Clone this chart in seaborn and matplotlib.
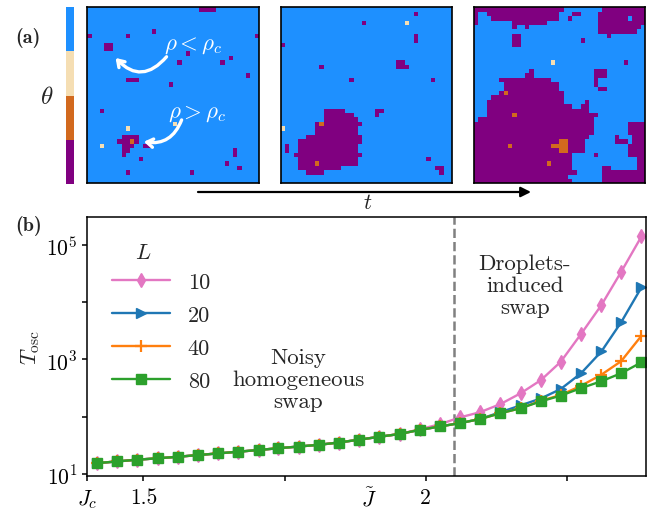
import numpy as np
import matplotlib
matplotlib.use("Agg")
import matplotlib.pyplot as plt
from matplotlib.colors import ListedColormap
from matplotlib.ticker import NullLocator
import seaborn as sns

# ---------------------------------------------------------------- data
# lattice states (theta): 0 purple, 1 chocolate, 2 wheat, 3 blue
state_colors = ["#800080", "#D2691E", "#F5DEB3", "#1E90FF"]
L_SNAP = 40

# runs of non-background cells: (row, first column, last column)
snap1_purple = [(0, 26, 29), (5, 15, 15), (6, 0, 0), (6, 9, 9), (6, 39, 39),
                (8, 4, 5), (9, 4, 5), (10, 23, 23), (11, 33, 33), (12, 21, 21),
                (12, 31, 31), (15, 37, 37), (16, 9, 11), (17, 19, 19), (23, 3, 3),
                (29, 8, 11), (30, 7, 11), (31, 8, 10), (31, 13, 14), (32, 8, 9),
                (33, 8, 8), (32, 34, 34), (33, 34, 34), (34, 12, 12), (35, 32, 32),
                (36, 35, 35), (37, 9, 9), (37, 24, 24)]
snap1_orange = [(30, 10, 10)]
snap1_wheat = [(26, 20, 20), (27, 9, 9), (31, 3, 3)]

snap2_purple = [(1, 31, 31), (3, 19, 19), (6, 31, 31), (7, 31, 31), (8, 0, 0),
                (12, 27, 28), (13, 27, 29), (13, 9, 9), (16, 16, 16), (16, 35, 35),
                (23, 22, 23), (24, 22, 22), (31, 1, 1), (32, 1, 1), (34, 34, 34),
                (36, 36, 37), (37, 37, 37),
                (23, 10, 14), (24, 10, 16), (25, 10, 17), (26, 8, 18), (27, 8, 17),
                (28, 8, 17), (29, 6, 18), (30, 4, 18), (31, 4, 17), (32, 4, 17),
                (33, 3, 18), (34, 4, 17), (35, 4, 17), (36, 4, 13), (37, 6, 9)]
snap2_orange = [(26, 9, 9), (35, 8, 8)]
snap2_wheat = [(3, 29, 29), (27, 0, 0)]

snap3_purple = [(0, 0, 20), (0, 30, 39),
                (1, 0, 0), (1, 3, 19), (1, 23, 24), (1, 29, 39),
                (2, 0, 0), (2, 4, 19), (2, 22, 22), (2, 29, 35), (2, 37, 39),
                (3, 0, 0), (3, 9, 16), (3, 29, 39),
                (4, 9, 9), (4, 12, 12), (4, 29, 38),
                (5, 29, 37),
                (6, 9, 10), (6, 31, 31),
                (7, 9, 10), (7, 25, 25),
                (8, 9, 10),
                (12, 35, 35),
                (14, 13, 13), (14, 28, 30),
                (15, 12, 13), (15, 28, 30),
                (16, 6, 17), (16, 28, 28),
                (17, 7, 19), (17, 28, 28),
                (18, 7, 19), (18, 29, 30),
                (19, 6, 20),
                (20, 4, 20),
                (21, 3, 20), (21, 26, 26),
                (22, 3, 22), (22, 25, 26),
                (23, 3, 26),
                (24, 3, 28),
                (25, 1, 27),
                (26, 0, 27), (26, 36, 39),
                (27, 0, 27), (27, 36, 39),
                (28, 0, 27), (28, 36, 39),
                (29, 0, 26), (29, 33, 33), (29, 37, 39),
                (30, 0, 25), (30, 33, 35), (30, 37, 39),
                (31, 0, 25), (31, 36, 39),
                (32, 0, 25), (32, 36, 39),
                (33, 0, 22), (33, 28, 28), (33, 36, 39),
                (34, 0, 22), (34, 38, 39),
                (35, 0, 22), (35, 38, 39),
                (36, 0, 22), (36, 30, 31), (36, 38, 39),
                (37, 0, 23), (37, 30, 39),
                (38, 0, 21), (38, 30, 39),
                (39, 0, 22), (39, 30, 39)]
snap3_orange = [(19, 7, 7), (24, 9, 9), (30, 20, 21), (31, 18, 21), (31, 8, 8),
                (32, 20, 21), (35, 17, 17)]
snap3_wheat = [(12, 18, 18)]

# oscillation time versus coupling J for several system sizes L
J_values = [1.418, 1.454, 1.489, 1.525, 1.561, 1.596, 1.632, 1.668, 1.704, 1.739,
            1.775, 1.811, 1.846, 1.882, 1.918, 1.954, 1.989, 2.025, 2.061, 2.096,
            2.132, 2.168, 2.204, 2.239, 2.275, 2.311, 2.346, 2.382]
T_L10 = [15.5, 16.6, 17.8, 18.8, 20.0, 21.4, 22.9, 24.5, 26.3, 28.2, 30.2, 32.4,
         35.5, 39.8, 44.7, 50.1, 60.3, 74.1, 97.7, 120, 166, 257, 437, 912,
         2790, 8910, 33900, 141000]
T_L20 = [15.5, 16.6, 17.8, 18.8, 20.0, 21.4, 22.9, 24.5, 26.3, 28.2, 30.2, 32.4,
         35.5, 39.8, 44.7, 50.1, 58.9, 67.6, 77.6, 91.2, 120, 158, 209, 305,
         575, 1380, 4470, 18200]
T_L40 = [15.5, 16.6, 17.8, 18.8, 20.0, 21.4, 22.9, 24.5, 26.3, 28.2, 30.2, 32.4,
         35.5, 39.8, 44.7, 50.1, 58.9, 67.6, 77.6, 91.2, 115, 141, 190, 240,
         347, 543, 933, 2600]
T_L80 = [15.5, 16.6, 17.8, 18.8, 20.0, 21.4, 22.9, 24.5, 26.3, 28.2, 30.2, 32.4,
         35.5, 39.8, 44.7, 50.1, 58.9, 67.6, 77.6, 91.2, 115, 141, 186, 234,
         316, 417, 575, 891]
sizes = ["10", "20", "40", "80"]
J_c = 1.40
J_tilde = 1.90
J_cross = 2.05

# ---------------------------------------------------------------- style
sns.set_style("ticks")
plt.rcParams.update({
    "font.family": ["cmr10", "DejaVu Serif"],
    "mathtext.fontset": "cm",
    "axes.formatter.use_mathtext": True,
    "axes.unicode_minus": False,
    "axes.edgecolor": "black",
    "axes.linewidth": 1.1,
    "xtick.color": "black",
    "ytick.color": "black",
})

W, H = 665, 510
fig = plt.figure(figsize=(W / 100, H / 100), dpi=100)


def px_axes(x0, y0, x1, y1):
    """Axes from pixel box (left, top, right, bottom)."""
    return fig.add_axes([x0 / W, 1 - y1 / H, (x1 - x0) / W, (y1 - y0) / H])


cmap = ListedColormap(state_colors)


def build_lattice(purple, orange, wheat):
    grid = np.full((L_SNAP, L_SNAP), 3)
    for runs, state in ((purple, 0), (orange, 1), (wheat, 2)):
        for r, c0, c1 in runs:
            grid[r, c0:c1 + 1] = state
    return grid


# ---------------------------------------------------------------- panel (a)
cax = px_axes(65.5, 8.3, 74, 185)
sns.heatmap(np.array([[3], [2], [1], [0]]), cmap=cmap, vmin=-0.5, vmax=3.5,
            cbar=False, xticklabels=False, yticklabels=False, ax=cax)
cax.tick_params(left=False, bottom=False)
fig.text(47 / W, 1 - 98 / H, r"$\theta$", fontsize=18, ha="center", va="center")

snaps = [(snap1_purple, snap1_orange, snap1_wheat),
         (snap2_purple, snap2_orange, snap2_wheat),
         (snap3_purple, snap3_orange, snap3_wheat)]
lefts = [87.3, 280.7, 473.7]
snap_axes = []
for left, (pp, oo, ww) in zip(lefts, snaps):
    a = px_axes(left, 8.3, left + 171.5, 184.3)
    sns.heatmap(build_lattice(pp, oo, ww), cmap=cmap, vmin=-0.5, vmax=3.5,
                cbar=False, xticklabels=False, yticklabels=False, ax=a)
    a.tick_params(left=False, bottom=False)
    for s in a.spines.values():
        s.set_visible(True)
        s.set_color("black")
        s.set_linewidth(1.2)
    snap_axes.append(a)

a1 = snap_axes[0]
a1.text(0.615, 0.786, r"$\rho < \rho_c$", transform=a1.transAxes, color="white",
        fontsize=16.5, ha="center", va="center")
a1.text(0.64, 0.40, r"$\rho > \rho_c$", transform=a1.transAxes, color="white",
        fontsize=16.5, ha="center", va="center")
arrow_kw = dict(arrowstyle="->,head_length=0.45,head_width=0.3", color="white",
                lw=2.4, shrinkA=0, shrinkB=0)
a1.annotate("", xy=(0.165, 0.712), xytext=(0.462, 0.719), xycoords="axes fraction",
            arrowprops=dict(connectionstyle="arc3,rad=-0.55", **arrow_kw))
a1.annotate("", xy=(0.33, 0.236), xytext=(0.55, 0.36), xycoords="axes fraction",
            arrowprops=dict(connectionstyle="arc3,rad=-0.4", **arrow_kw))

fig.text(15 / W, 1 - 38 / H, "(a)", family=["cmb10", "DejaVu Serif"],
         fontsize=14.5, ha="left", va="center")

# ---------------------------------------------------------------- panel (b)
ax = px_axes(87, 218, 646, 477)
series = [(T_L10, "#e377c2", "d", 7.5, 1.0),
          (T_L20, "#1f77b4", ">", 7.5, 1.0),
          (T_L40, "#ff7f0e", "+", 8.5, 1.6),
          (T_L80, "#2ca02c", "s", 6.8, 1.0)]
for (vals, col, mk, ms, mew), lab in zip(series, sizes):
    sns.lineplot(x=J_values, y=vals, ax=ax, color=col, marker=mk, markersize=ms,
                 markeredgecolor=col, markerfacecolor=col, markeredgewidth=mew,
                 linewidth=1.7, label=lab)

ax.set_yscale("log")
ax.set_xlim(J_c, 2.39)
ax.set_ylim(9.23, 3.08e5)
ax.axvline(J_cross, color="#808080", ls="--", lw=1.8, zorder=0)

ax.set_yticks([1e1, 1e2, 1e3, 1e4, 1e5],
              labels=[r"$10^1$", "", r"$10^3$", "", r"$10^5$"])
ax.yaxis.set_minor_locator(NullLocator())
ax.set_xticks([J_c, 1.5, 1.75, 2.0, 2.25],
              labels=[r"$J_c$", "1.5", "", "2", ""])
ax.set_xticks([J_tilde], labels=[r"$\tilde{J}$"], minor=True)
ax.tick_params(which="major", direction="out", length=3.8, width=1.1,
               labelsize=15.5, pad=3)
ax.tick_params(axis="x", which="major", pad=4.6)
ax.tick_params(axis="x", which="minor", length=0, labelsize=15.5, pad=7.6)
ax.set_xlabel("")
ax.set_ylabel(r"$T_{\rm osc}$", fontsize=16, labelpad=3)

ax.text(1.774, 457, "Noisy\nhomogeneous\nswap", ha="center", va="center",
        fontsize=16.5, linespacing=1.15)
ax.text(2.175, 2.0e4, "Droplets-\ninduced\nswap", ha="center", va="center",
        fontsize=16.5, linespacing=1.15)

leg = ax.legend(loc="upper left", bbox_to_anchor=(0.045, 0.785), frameon=False,
                fontsize=16, handlelength=2.6, handletextpad=0.8,
                labelspacing=0.6, borderaxespad=0, borderpad=0)
ax.text((143 - 87) / 559, (477 - 253) / 259, r"$L$", transform=ax.transAxes,
        fontsize=16, ha="center", va="center")

fig.text(15 / W, 1 - 226 / H, "(b)", family=["cmb10", "DejaVu Serif"],
         fontsize=14.5, ha="left", va="center")

# time arrow between the snapshots
ax.annotate("", xy=(531 / W, 1 - 193 / H), xytext=(198 / W, 1 - 193 / H),
            xycoords="figure fraction", annotation_clip=False,
            arrowprops=dict(arrowstyle="-|>,head_length=0.6,head_width=0.3",
                            color="black", lw=1.6, shrinkA=0, shrinkB=0))
fig.text(368 / W, 1 - 203 / H, r"$t$", fontsize=16, ha="center", va="center")

fig.savefig("out.png", dpi=100)
